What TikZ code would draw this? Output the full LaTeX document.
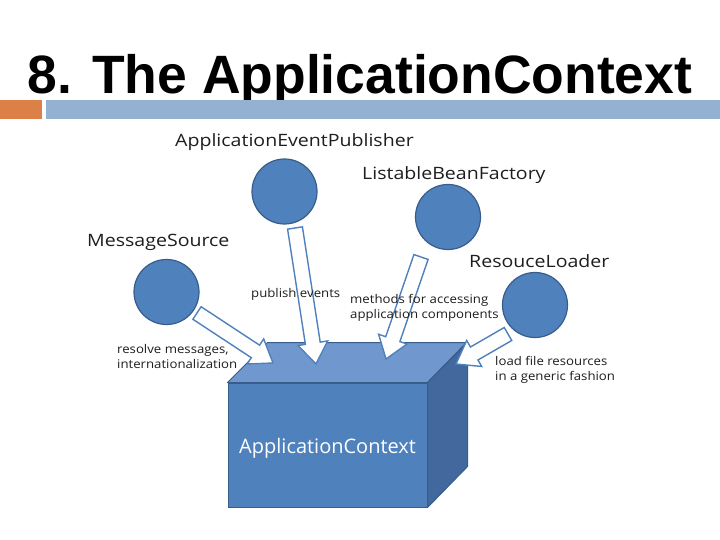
\documentclass[tikz,border=0pt]{standalone}
\usepackage{graphicx}
\usepackage{fontspec}
\setmainfont{Liberation Sans}
\newfontfamily\lblfont{Open Sans}
\definecolor{ofblue}{RGB}{79,129,189}
\definecolor{ofdark}{RGB}{56,93,138}
\definecolor{oftop}{RGB}{113,152,206}
\definecolor{ofside}{RGB}{66,104,157}
\definecolor{barblue}{RGB}{147,177,208}
\definecolor{barorange}{RGB}{221,128,71}
\definecolor{lbl}{RGB}{30,30,30}
\newcommand\bigtxt[1]{\scalebox{1.15}[1]{#1}}
\newcommand\smalltxt[1]{\scalebox{1.1}[1]{#1}}
\newcommand\blockarrow[2]{%
  \pgfmathanglebetweenpoints{\pgfpointanchor{#1}{center}}{\pgfpointanchor{#2}{center}}%
  \let\baang\pgfmathresult
  \pgfpointdiff{\pgfpointanchor{#1}{center}}{\pgfpointanchor{#2}{center}}%
  \pgfgetlastxy{\badx}{\bady}%
  \pgfmathveclen{\badx}{\bady}%
  \let\balen\pgfmathresult
  \begin{scope}[shift={(#1)},rotate=\baang]
    \draw[blockarr] (0pt,-7.5pt) -- ({\balen pt-21pt},-7.5pt) -- ({\balen pt-21pt},-15pt)
      -- (\balen pt,0pt) -- ({\balen pt-21pt},15pt) -- ({\balen pt-21pt},7.5pt) -- (0pt,7.5pt) -- cycle;
  \end{scope}}
\tikzset{
  blockarr/.style={draw=ofblue, fill=white, line width=1.4pt, line join=miter},
  iface/.style={circle, fill=ofblue, draw=ofdark, line width=1.2pt, minimum size=65pt, inner sep=0},
  bigl/.style={font=\lblfont\fontsize{17}{20}\selectfont, text=lbl, inner sep=0, anchor=base west},
  smalll/.style={font=\lblfont\fontsize{12}{15}\selectfont, text=lbl, inner sep=0, anchor=base west},
}
\begin{document}
\begin{tikzpicture}[x=1pt,y=-1pt]
\useasboundingbox (0,0) rectangle (720,540);
\fill[white] (0,0) rectangle (720,540);
% title
\node[anchor=base, inner sep=0, font=\bfseries\fontsize{54}{60}\selectfont] (title) at (360,94) {\scalebox{0.99}[1]{8. The ApplicationContext}};
\fill[barorange] (0,100) rectangle (42,119);
\fill[barblue] (46,100) rectangle (720,119);
% box
\node[draw=ofdark, fill=ofblue, line width=1pt, minimum width=199pt, minimum height=124pt, inner sep=0] (ctx) at (327.5,445) {};
\draw[draw=ofdark, fill=oftop, line width=1pt, line join=round] (ctx.north west) -- ++(40pt,40pt) -- ++(199pt,0pt) -- (ctx.north east) -- cycle;
\draw[draw=ofdark, fill=ofside, line width=1pt, line join=round] (ctx.north east) -- ++(40pt,40pt) -- ++(0pt,-124pt) -- (ctx.south east) -- cycle;
\node[font=\lblfont\fontsize{20}{24}\selectfont, text=white, anchor=base west, inner sep=0] (ctxl) at (239,453) {ApplicationContext};
% interfaces
\node[iface] (aep) at (284.5,191.5) {};
\node[iface] (ms) at (166.5,292) {};
\node[iface] (lbf) at (448,217) {};
\node[iface] (rl) at (535,305) {};
% arrow ends
\coordinate (aepS) at (295,228); \coordinate (aepE) at (316,364);
\coordinate (msS) at (197,313); \coordinate (msE) at (273,363);
\coordinate (lbfS) at (421,257); \coordinate (lbfE) at (386,359);
\coordinate (rlS) at (508,334); \coordinate (rlE) at (456,364);
\blockarrow{aepS}{aepE}
\blockarrow{msS}{msE}
\blockarrow{lbfS}{lbfE}
\blockarrow{rlS}{rlE}
% labels
\node[bigl] (aepl) at (175,147) {\bigtxt{ApplicationEventPublisher}};
\node[bigl] (msl) at (87,247) {\bigtxt{MessageSource}};
\node[bigl] (lbfl) at (362,180) {\bigtxt{ListableBeanFactory}};
\node[bigl] (rll) at (469,267) {\bigtxt{ResouceLoader}};
\node[smalll] (pe) at (251,297) {\smalltxt{publish events}};
\node[smalll] (m1) at (350,303) {\smalltxt{methods for accessing}};
\node[smalll] (m2) at (350,318) {\smalltxt{application components}};
\node[smalll] (r1) at (117,353) {\smalltxt{resolve messages,}};
\node[smalll] (r2) at (117,368) {\smalltxt{internationalization}};
\node[smalll] (l1) at (495,365) {\smalltxt{load file resources}};
\node[smalll] (l2) at (495,380) {\smalltxt{in a generic fashion}};
\end{tikzpicture}
\end{document}
